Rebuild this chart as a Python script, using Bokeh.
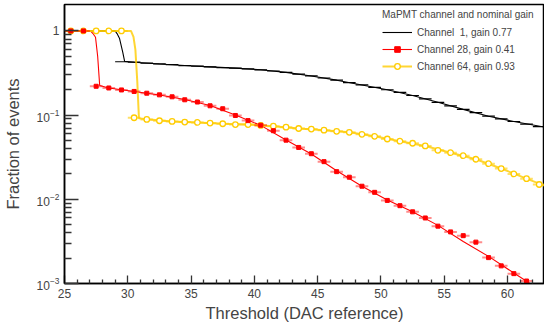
import numpy as np
from bokeh.plotting import figure
from bokeh.models import Range1d, FixedTicker, LogTickFormatter, Legend, LegendItem
from bokeh.embed import file_html
from bokeh.resources import INLINE

# ---------------- data ----------------
# Channel 1 (black): bin centres and fraction of events
ch1_x = [25.5, 26.5, 27.5, 28.5, 29.5, 30.5, 31.5, 32.5, 33.5, 34.5, 35.5, 36.5, 37.5,
         38.5, 39.5, 40.5, 41.5, 42.5, 43.5, 44.5, 45.5, 46.5, 47.5, 48.5, 49.5, 50.5,
         51.5, 52.5, 53.5, 54.5, 55.5, 56.5, 57.5, 58.5, 59.5, 60.5, 61.5, 62.5]
ch1_y = [1.0, 1.0, 1.0, 1.0, 0.43, 0.425, 0.415, 0.405, 0.397, 0.388, 0.381, 0.374, 0.367,
         0.361, 0.355, 0.345, 0.334, 0.322, 0.307, 0.292, 0.276, 0.260, 0.243, 0.228, 0.214, 0.200,
         0.186, 0.171, 0.156, 0.142, 0.129, 0.117, 0.107, 0.097, 0.090, 0.084, 0.078, 0.073]
# Channel 1 curve
ch1_curve_x = [25.5, 29.0, 29.15, 29.35, 29.6, 29.75, 30.5, 32.5, 34.5, 36.5, 38.5, 40.5,
               42.5, 44.5, 46.5, 48.5, 50.5, 52.5, 54.5, 56.5, 58.5, 60.5, 62.92]
ch1_curve_y = [1.0, 1.0, 0.93, 0.81, 0.56, 0.435, 0.425, 0.405, 0.388, 0.374, 0.361, 0.345,
               0.322, 0.292, 0.260, 0.228, 0.200, 0.171, 0.142, 0.117, 0.097, 0.084, 0.072]

# Channel 28 (red)
ch28_x = [25.5, 26.5, 27.5, 28.5, 29.5, 30.5, 31.5, 32.5, 33.5, 34.5, 35.5, 36.5, 37.5,
          38.5, 39.5, 40.5, 41.5, 42.5, 43.5, 44.5, 45.5, 46.5, 47.5, 48.5, 49.5, 50.5,
          51.5, 52.5, 53.5, 54.5, 55.5, 56.5, 57.5, 58.5, 59.5, 60.5, 61.5]
ch28_y = [1.0, 1.0, 0.22, 0.210, 0.199, 0.191, 0.182, 0.174, 0.165, 0.152, 0.143, 0.129, 0.119,
          0.099, 0.086, 0.0758, 0.0652, 0.0504, 0.0413, 0.0348, 0.028, 0.0213, 0.0183, 0.0143,
          0.0121, 0.0097, 0.0084, 0.0071, 0.0060, 0.0048, 0.0041, 0.0037, 0.0031, 0.00203,
          0.00162, 0.00131, 0.00107]
ch28_curve_x = [25.5, 27.05, 27.25, 27.45, 27.62, 27.78, 28.5, 30.5, 32.5, 34.5, 36.5, 38.5,
                40.5, 42.5, 44.5, 46.5, 48.5, 50.5, 52.5, 54.5, 56.5, 58.5, 60.5, 62.1]
ch28_curve_y = [1.0, 1.0, 0.93, 0.84, 0.5, 0.225, 0.21, 0.191, 0.173, 0.153, 0.13, 0.1,
                0.0755, 0.0505, 0.0345, 0.0218, 0.0143, 0.0098, 0.0071, 0.0049, 0.00315,
                0.0021, 0.00133, 0.00093]

# Channel 64 (yellow)
ch64_x = [25.5, 26.5, 27.5, 28.5, 29.5, 30.5, 31.5, 32.5, 33.5, 34.5, 35.5, 36.5, 37.5,
          38.5, 39.5, 40.5, 41.5, 42.5, 43.5, 44.5, 45.5, 46.5, 47.5, 48.5, 49.5, 50.5,
          51.5, 52.5, 53.5, 54.5, 55.5, 56.5, 57.5, 58.5, 59.5, 60.5, 61.5, 62.5]
ch64_y = [1.0, 1.0, 1.0, 1.0, 1.0, 0.093, 0.0889, 0.0857, 0.0842, 0.0826, 0.0818, 0.0804, 0.0790,
          0.0772, 0.0772, 0.0755, 0.0738, 0.0718, 0.0693, 0.0682, 0.0662, 0.0641, 0.0624, 0.0591,
          0.0560, 0.052, 0.049, 0.0463, 0.0430, 0.0382, 0.0358, 0.0330, 0.0299, 0.0265, 0.0232,
          0.0200, 0.0176, 0.0150]
ch64_curve_x = [25.5, 30.25, 30.45, 30.6, 30.75, 30.88, 31.5, 33.5, 35.5, 37.5, 39.5, 41.5,
                43.5, 45.5, 47.5, 49.5, 51.5, 53.5, 55.5, 57.5, 59.5, 61.5, 62.92]
ch64_curve_y = [1.0, 1.0, 0.85, 0.6, 0.25, 0.092, 0.089, 0.0842, 0.0818, 0.079, 0.0772, 0.0738,
                0.0695, 0.0662, 0.0624, 0.056, 0.049, 0.043, 0.0358, 0.0299, 0.0232, 0.0176, 0.0145]

bin_half_width = 0.5

x_major_ticks = [25, 30, 35, 40, 45, 50, 55, 60]
x_minor_ticks = [26, 27, 28, 29, 31, 32, 33, 34, 36, 37, 38, 39, 41, 42, 43, 44, 46, 47, 48, 49,
                 51, 52, 53, 54, 56, 57, 58, 59, 61, 62]
y_major_ticks = [0.001, 0.01, 0.1, 1]
y_minor_ticks = [0.002, 0.003, 0.004, 0.005, 0.006, 0.007, 0.008, 0.009,
                 0.02, 0.03, 0.04, 0.05, 0.06, 0.07, 0.08, 0.09,
                 0.2, 0.3, 0.4, 0.5, 0.6, 0.7, 0.8, 0.9]

legend_title = "MaPMT channel and nominal gain"
legend_labels = ["Channel  1, gain 0.77", "Channel 28, gain 0.41", "Channel 64, gain 0.93"]

FONT = "Liberation Sans"
BLACK = "black"
RED = "#ff0000"
YELLOW = "#ffcc00"
TICK = "#333333"

# ---------------- figure ----------------
p = figure(width=544, height=324, x_range=Range1d(25, 62.92), y_range=Range1d(1e-3, 2.059),
           y_axis_type="log", output_backend="svg", toolbar_location=None, title=None,
           min_border_left=63, min_border_right=0, min_border_top=4, min_border_bottom=40)
p.xgrid.visible = False
p.ygrid.visible = False
p.outline_line_color = "black"
p.outline_line_width = 1.5
p.background_fill_color = "white"
p.border_fill_color = "white"

xa = p.xaxis[0]
xa.ticker = FixedTicker(ticks=x_major_ticks, minor_ticks=x_minor_ticks)
xa.major_tick_in = 8
xa.major_tick_out = 0
xa.minor_tick_in = 4
xa.minor_tick_out = 0
xa.major_tick_line_color = TICK
xa.minor_tick_line_color = TICK
xa.major_tick_line_width = 1.3
xa.minor_tick_line_width = 1.3
xa.axis_line_width = 1.5
xa.major_label_text_font = FONT
xa.major_label_text_font_size = "12px"
xa.major_label_standoff = 5
xa.axis_label = "Threshold (DAC reference)"
xa.axis_label_text_font = FONT
xa.axis_label_text_font_size = "16.5px"
xa.axis_label_text_font_style = "normal"
xa.axis_label_standoff = 3

ya = p.yaxis[0]
ya.ticker = FixedTicker(ticks=y_major_ticks, minor_ticks=y_minor_ticks)
ya.formatter = LogTickFormatter()
ya.major_label_overrides = {1: "1"}
ya.major_tick_in = 14
ya.major_tick_out = 0
ya.minor_tick_in = 7
ya.minor_tick_out = 0
ya.major_tick_line_color = TICK
ya.minor_tick_line_color = TICK
ya.major_tick_line_width = 1.3
ya.minor_tick_line_width = 1.3
ya.axis_line_width = 1.5
ya.major_label_text_font = FONT
ya.major_label_text_font_size = "12px"
ya.major_label_standoff = 5
ya.axis_label = "Fraction of events"
ya.axis_label_text_font = FONT
ya.axis_label_text_font_size = "16.5px"
ya.axis_label_text_font_style = "normal"
ya.axis_label_standoff = 12


def bars(xs, ys, color, alpha, width):
    x0 = [x - bin_half_width for x in xs]
    x1 = [x + bin_half_width for x in xs]
    return p.segment(x0=x0, y0=ys, x1=x1, y1=ys, line_color=color, line_alpha=alpha,
                     line_width=width)


# Channel 1
b_line = p.line(ch1_curve_x, ch1_curve_y, line_color=BLACK, line_width=1.1)
bars(ch1_x, ch1_y, BLACK, 1.0, 1.2)
b_tick = p.scatter(x=[], y=[], marker="dash", angle=np.pi / 2, size=8, line_color=BLACK,
                   line_width=1.2)

# Channel 28 line (under yellow)
r_line = p.line(ch28_curve_x, ch28_curve_y, line_color=RED, line_width=1.1)

# Channel 64
y_line = p.line(ch64_curve_x, ch64_curve_y, line_color=YELLOW, line_width=2, line_alpha=0.8)
bars(ch64_x, ch64_y, YELLOW, 0.6, 2)
y_pts = p.scatter(ch64_x, ch64_y, marker="circle", size=5.5, line_color=YELLOW, line_width=1.3,
                  fill_color="white")
y_tick = p.scatter(x=[], y=[], marker="dash", angle=np.pi / 2, size=8, line_color=YELLOW,
                   line_width=1.2, line_alpha=0.6)

# Channel 28 points
bars(ch28_x, ch28_y, RED, 0.45, 2)
r_pts = p.scatter(ch28_x, ch28_y, marker="square", size=4, line_color=RED, fill_color=RED)
r_tick = p.scatter(x=[], y=[], marker="dash", angle=np.pi / 2, size=8, line_color=RED,
                   line_width=1.2)

legend = Legend(items=[
    LegendItem(label=legend_labels[0], renderers=[b_line, b_tick]),
    LegendItem(label=legend_labels[1], renderers=[r_line, r_tick, r_pts]),
    LegendItem(label=legend_labels[2], renderers=[y_line, y_tick, y_pts]),
], location=(318, 210), title=legend_title)
legend.title_text_font = FONT
legend.title_text_font_size = "10px"
legend.title_text_font_style = "normal"
legend.title_standoff = 5
legend.label_text_font = FONT
legend.label_text_font_size = "10px"
legend.glyph_width = 30
legend.glyph_height = 14
legend.label_height = 14
legend.label_standoff = 5
legend.spacing = 3
legend.padding = 0
legend.margin = 0
legend.border_line_color = None
legend.background_fill_color = "white"
legend.background_fill_alpha = 1.0
p.add_layout(legend)

open("out.html", "w").write(file_html(p, INLINE))
